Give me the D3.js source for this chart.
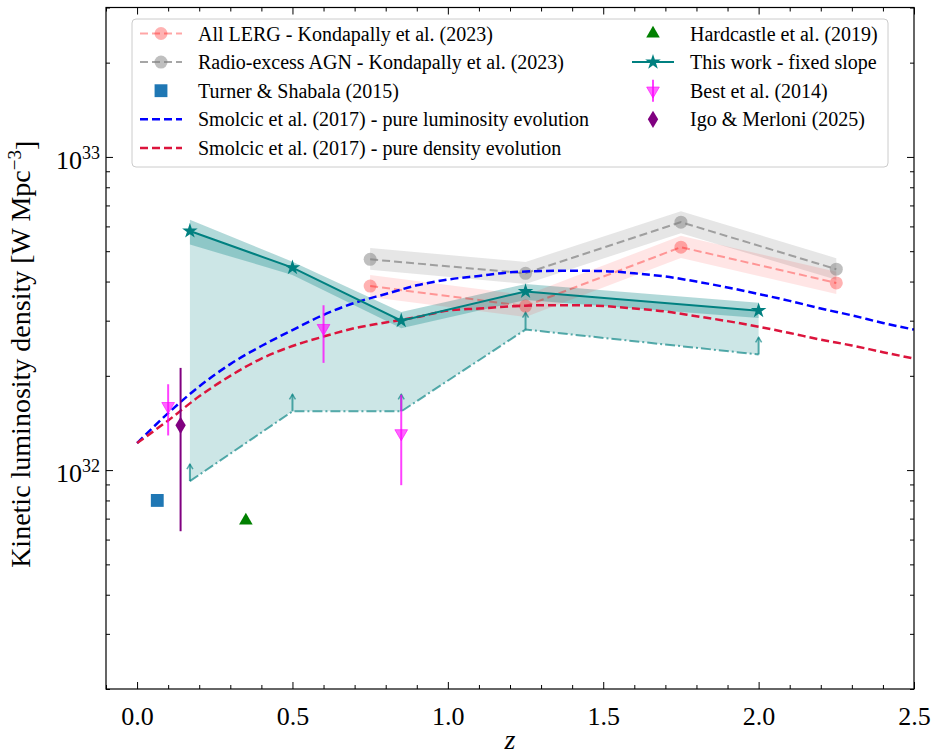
<!DOCTYPE html>
<html>
<head>
<meta charset="utf-8">
<script src="https://cdn.jsdelivr.net/npm/d3@7"></script>
<style>
  body { margin: 0; background: #fff; }
  text { font-family: "Liberation Serif", "Times New Roman", serif; }
</style>
</head>
<body>
<div id="chart"></div>
<script>
// ---- data ----
const zKond = [0.75, 1.25, 1.75, 2.25];
const lergVal = [3.87e32, 3.34e32, 5.15e32, 3.96e32];
const lergHi = [4.20e32, 3.62e32, 5.60e32, 4.30e32];
const lergLo = [3.57e32, 3.08e32, 4.76e32, 3.65e32];
const rxVal = [4.71e32, 4.25e32, 6.19e32, 4.38e32];
const rxHi = [5.12e32, 4.62e32, 6.71e32, 4.75e32];
const rxLo = [4.36e32, 3.93e32, 5.71e32, 4.05e32];

const zWork = [0.17, 0.5, 0.85, 1.25, 2.0];
const workVal = [5.80e32, 4.43e32, 3.00e32, 3.72e32, 3.23e32];
const workHi = [6.30e32, 4.63e32, 3.20e32, 3.93e32, 3.42e32];
const workLo = [5.25e32, 4.20e32, 2.84e32, 3.49e32, 3.06e32];
const workLimit = [9.22e31, 1.54e32, 1.54e32, 2.81e32, 2.34e32];

const zBest = [0.1, 0.6, 0.85];
const bestVal = [1.60e32, 2.84e32, 1.31e32];
const bestHi = [1.88e32, 3.36e32, 1.74e32];
const bestLo = [1.29e32, 2.20e32, 8.95e31];

const zIgo = [0.14], igoVal = [1.39e32], igoHi = [2.12e32], igoLo = [6.38e31];
const zTurner = [0.065], turnerVal = [8.0e31];
const zHard = [0.35], hardVal = [6.9e31];

const zModel = [0.0, 0.1, 0.2, 0.3, 0.4, 0.5, 0.6, 0.7, 0.8, 0.9, 1.0, 1.1, 1.2,
  1.3, 1.4, 1.5, 1.6, 1.7, 1.8, 1.9, 2.0, 2.1, 2.2, 2.3, 2.4, 2.5];
const lumEvo = [1.22e32, 1.52e32, 1.85e32, 2.18e32, 2.49e32, 2.80e32, 3.13e32, 3.42e32,
  3.65e32, 3.89e32, 4.06e32, 4.17e32, 4.28e32, 4.32e32, 4.33e32, 4.32e32, 4.25e32,
  4.15e32, 4.00e32, 3.83e32, 3.65e32, 3.47e32, 3.28e32, 3.12e32, 2.95e32, 2.81e32];
const densEvo = [1.22e32, 1.44e32, 1.72e32, 2.00e32, 2.27e32, 2.49e32, 2.67e32, 2.84e32,
  2.96e32, 3.08e32, 3.23e32, 3.28e32, 3.33e32, 3.36e32, 3.36e32, 3.34e32, 3.28e32,
  3.21e32, 3.10e32, 2.99e32, 2.87e32, 2.74e32, 2.61e32, 2.50e32, 2.38e32, 2.27e32];

const xTicks = [0.0, 0.5, 1.0, 1.5, 2.0, 2.5];
const yMajor = [1e32, 1e33];
const yExp = ["32", "33"];

const legendCol1 = ["All LERG - Kondapally et al. (2023)",
  "Radio-excess AGN - Kondapally et al. (2023)",
  "Turner & Shabala (2015)",
  "Smolcic et al. (2017) - pure luminosity evolution",
  "Smolcic et al. (2017) - pure density evolution"];
const legendCol2 = ["Hardcastle et al. (2019)", "This work - fixed slope",
  "Best et al. (2014)", "Igo & Merloni (2025)"];

// ---- layout ----
const margin = {top: 7.5, right: 21, bottom: 67, left: 106},
    width = 935 - margin.left - margin.right,
    height = 756 - margin.top - margin.bottom;

const svg = d3.select("#chart")
  .append("svg")
    .attr("width", 935)
    .attr("height", 756)
  .append("g")
    .attr("transform", `translate(${margin.left},${margin.top})`);

const x = d3.scaleLinear().domain([-0.1, 2.5]).range([0, width]);
const y = d3.scaleLog().domain([2e31, 3e33]).range([height, 0]);

svg.append("clipPath").attr("id", "clip")
  .append("rect").attr("width", width).attr("height", height);
const plot = svg.append("g").attr("clip-path", "url(#clip)");

const work = zWork.map((z, i) => ({z, v: workVal[i], hi: workHi[i], lo: workLo[i], lim: workLimit[i]}));
const lerg = zKond.map((z, i) => ({z, v: lergVal[i], hi: lergHi[i], lo: lergLo[i]}));
const rx = zKond.map((z, i) => ({z, v: rxVal[i], hi: rxHi[i], lo: rxLo[i]}));

const band = d3.area().x(d => x(d.z)).y0(d => y(d.lo)).y1(d => y(d.hi));
const line = d3.line().x(d => x(d.z)).y(d => y(d.v));

// teal region between lower limits and measured values
plot.append("path").datum(work)
  .attr("d", d3.area().x(d => x(d.z)).y0(d => y(d.lim)).y1(d => y(d.v)))
  .attr("fill", "teal").attr("fill-opacity", 0.2);
plot.append("path").datum(work).attr("d", band)
  .attr("fill", "teal").attr("fill-opacity", 0.3);

// Kondapally bands
plot.append("path").datum(rx).attr("d", band)
  .attr("fill", "gray").attr("fill-opacity", 0.2);
plot.append("path").datum(lerg).attr("d", band)
  .attr("fill", "red").attr("fill-opacity", 0.1);

// lower limit line + arrows
plot.append("path").datum(work)
  .attr("d", d3.line().x(d => x(d.z)).y(d => y(d.lim)))
  .attr("fill", "none").attr("stroke", "teal").attr("stroke-opacity", 0.65)
  .attr("stroke-width", 2).attr("stroke-dasharray", "10,3,2,3");
const arrows = plot.append("g").attr("stroke", "teal").attr("stroke-opacity", 0.65)
  .attr("stroke-width", 2).attr("fill", "none");
work.forEach(d => {
  const px = x(d.z), py = y(d.lim);
  arrows.append("line").attr("x1", px).attr("x2", px).attr("y1", py).attr("y2", py - 17);
  arrows.append("path").attr("d", `M${px - 3},${py - 12} L${px},${py - 17} L${px + 3},${py - 12}`)
    .attr("stroke-width", 1.5);
});

// Kondapally lines & markers
plot.append("path").datum(rx).attr("d", line)
  .attr("fill", "none").attr("stroke", "gray").attr("stroke-opacity", 0.7)
  .attr("stroke-width", 2).attr("stroke-dasharray", "8,4");
plot.append("path").datum(lerg).attr("d", line)
  .attr("fill", "none").attr("stroke", "red").attr("stroke-opacity", 0.35)
  .attr("stroke-width", 2).attr("stroke-dasharray", "8,4");
plot.selectAll(".rxpt").data(rx).join("circle")
  .attr("cx", d => x(d.z)).attr("cy", d => y(d.v)).attr("r", 6.5)
  .attr("fill", "gray").attr("fill-opacity", 0.5);
plot.selectAll(".lergpt").data(lerg).join("circle")
  .attr("cx", d => x(d.z)).attr("cy", d => y(d.v)).attr("r", 6.5)
  .attr("fill", "red").attr("fill-opacity", 0.3);

// Smolcic models
const model = d3.line().curve(d3.curveMonotoneX).x((d, i) => x(zModel[i])).y(d => y(d));
plot.append("path").datum(lumEvo).attr("d", model)
  .attr("fill", "none").attr("stroke", "blue").attr("stroke-width", 2.5)
  .attr("stroke-dasharray", "8,4");
plot.append("path").datum(densEvo).attr("d", model)
  .attr("fill", "none").attr("stroke", "crimson").attr("stroke-width", 2.5)
  .attr("stroke-dasharray", "8,4");

// This work
plot.append("path").datum(work).attr("d", line)
  .attr("fill", "none").attr("stroke", "teal").attr("stroke-width", 2);
const star = d3.symbol().type(d3.symbolStar).size(75);
plot.selectAll(".star").data(work).join("path")
  .attr("d", star).attr("transform", d => `translate(${x(d.z)},${y(d.v)})`)
  .attr("fill", "teal");

// Best et al.
const best = zBest.map((z, i) => ({z, v: bestVal[i], hi: bestHi[i], lo: bestLo[i]}));
plot.selectAll(".bestErr").data(best).join("line")
  .attr("x1", d => x(d.z)).attr("x2", d => x(d.z))
  .attr("y1", d => y(d.hi)).attr("y2", d => y(d.lo))
  .attr("stroke", "magenta").attr("stroke-opacity", 0.75).attr("stroke-width", 2);
const tri = d3.symbol().type(d3.symbolTriangle).size(70);
plot.selectAll(".bestPt").data(best).join("path")
  .attr("d", tri).attr("transform", d => `translate(${x(d.z)},${y(d.v)}) rotate(180)`)
  .attr("fill", "magenta").attr("fill-opacity", 0.6)
  .attr("stroke", "magenta").attr("stroke-opacity", 0.6);

// Igo & Merloni
const thinDiamond = {draw(ctx, size) {
  const h = Math.sqrt(size) * 0.9, w = h * 0.6;
  ctx.moveTo(0, -h); ctx.lineTo(w, 0); ctx.lineTo(0, h); ctx.lineTo(-w, 0); ctx.closePath();
}};
const igo = zIgo.map((z, i) => ({z, v: igoVal[i], hi: igoHi[i], lo: igoLo[i]}));
plot.selectAll(".igoErr").data(igo).join("line")
  .attr("x1", d => x(d.z)).attr("x2", d => x(d.z))
  .attr("y1", d => y(d.hi)).attr("y2", d => y(d.lo))
  .attr("stroke", "purple").attr("stroke-width", 2);
plot.selectAll(".igoPt").data(igo).join("path")
  .attr("d", d3.symbol().type(thinDiamond).size(92))
  .attr("transform", d => `translate(${x(d.z)},${y(d.v)})`)
  .attr("fill", "purple");

// Turner & Shabala, Hardcastle
plot.selectAll(".turner").data(zTurner).join("path")
  .attr("d", d3.symbol().type(d3.symbolSquare).size(165))
  .attr("transform", (d, i) => `translate(${x(d)},${y(turnerVal[i])})`)
  .attr("fill", "#1f77b4");
plot.selectAll(".hard").data(zHard).join("path")
  .attr("d", d3.symbol().type(d3.symbolTriangle).size(80))
  .attr("transform", (d, i) => `translate(${x(d)},${y(hardVal[i])})`)
  .attr("fill", "green");

// ---- axes ----
const minorX = d3.range(-0.1, 2.5001, 0.1).map(v => +v.toFixed(2)).filter(v => !xTicks.includes(v));
const minorY = y.ticks().filter(v => !yMajor.includes(v));

svg.append("g").attr("transform", `translate(0,${height})`)
  .call(d3.axisBottom(x).tickValues(xTicks).tickFormat(d3.format(".1f")).tickSizeInner(-7).tickSizeOuter(0).tickPadding(18))
  .call(g => g.select(".domain").remove())
  .call(g => g.selectAll("text").style("font-size", "26px").attr("fill", "#000"));
svg.append("g").attr("transform", `translate(0,${height})`)
  .call(d3.axisBottom(x).tickValues(minorX).tickFormat("").tickSizeInner(-4).tickSizeOuter(0))
  .call(g => g.select(".domain").remove());
svg.append("g")
  .call(d3.axisTop(x).tickValues(xTicks).tickFormat("").tickSizeInner(-7).tickSizeOuter(0))
  .call(g => g.select(".domain").remove());
svg.append("g")
  .call(d3.axisTop(x).tickValues(minorX).tickFormat("").tickSizeInner(-4).tickSizeOuter(0))
  .call(g => g.select(".domain").remove());

const yAx = svg.append("g")
  .call(d3.axisLeft(y).tickValues(yMajor).tickFormat("").tickSizeInner(-7).tickSizeOuter(0))
  .call(g => g.select(".domain").remove());
yAx.selectAll(".tick").append("text")
  .attr("x", -6).attr("dy", "0.45em").attr("text-anchor", "end")
  .attr("fill", "#000").style("font-size", "26px")
  .each(function(d, i) {
    const t = d3.select(this);
    t.append("tspan").text("10");
    t.append("tspan").attr("dy", "-0.55em").style("font-size", "18px").text(yExp[i]);
  });
svg.append("g")
  .call(d3.axisLeft(y).tickValues(minorY).tickFormat("").tickSizeInner(-4).tickSizeOuter(0))
  .call(g => g.select(".domain").remove());
svg.append("g").attr("transform", `translate(${width},0)`)
  .call(d3.axisRight(y).tickValues(yMajor).tickFormat("").tickSizeInner(-7).tickSizeOuter(0))
  .call(g => g.select(".domain").remove());
svg.append("g").attr("transform", `translate(${width},0)`)
  .call(d3.axisRight(y).tickValues(minorY).tickFormat("").tickSizeInner(-4).tickSizeOuter(0))
  .call(g => g.select(".domain").remove());

svg.selectAll(".tick line").attr("stroke", "#000").attr("stroke-width", 1);

svg.append("rect").attr("width", width).attr("height", height)
  .attr("fill", "none").attr("stroke", "#000").attr("stroke-width", 1.2);

// axis labels
const yl = svg.append("text")
  .attr("transform", `translate(${-76},${height / 2 + 6}) rotate(-90)`)
  .attr("text-anchor", "middle").style("font-size", "28px").attr("fill", "#000");
yl.append("tspan").text("Kinetic luminosity density [W Mpc");
yl.append("tspan").attr("dy", "-0.5em").style("font-size", "19px").text("\u22123");
yl.append("tspan").attr("dy", "0.5em").text("]");

svg.append("text")
  .attr("x", width / 2).attr("y", height + 60)
  .attr("text-anchor", "middle").style("font-size", "28px").style("font-style", "italic")
  .text("z");

// ---- legend ----
const lg = svg.append("g").attr("transform", `translate(${132 - margin.left},${19 - margin.top})`);
lg.append("rect").attr("width", 756).attr("height", 148).attr("rx", 4)
  .attr("fill", "#fff").attr("fill-opacity", 0.8).attr("stroke", "#ccc");
const rowY = i => 14.5 + i * 28.6;
const c1 = 8, c2 = 500;

function handleLine(g, x0, yy, color, op, dash, w) {
  g.append("line").attr("x1", x0).attr("x2", x0 + 42).attr("y1", yy).attr("y2", yy)
    .attr("stroke", color).attr("stroke-opacity", op).attr("stroke-width", w || 2)
    .attr("stroke-dasharray", dash);
}
function mark(g, x0, yy, type, size, color, op, rot) {
  return g.append("path").attr("d", d3.symbol().type(type).size(size)())
    .attr("transform", `translate(${x0},${yy})${rot ? " rotate(180)" : ""}`)
    .attr("fill", color).attr("fill-opacity", op);
}

legendCol1.forEach((t, i) => {
  const yy = rowY(i);
  lg.append("text").attr("x", 66).attr("y", yy).attr("dy", "0.35em")
    .style("font-size", "20px").text(t);
});
legendCol2.forEach((t, i) => {
  const yy = rowY(i);
  lg.append("text").attr("x", 558).attr("y", yy).attr("dy", "0.35em")
    .style("font-size", "20px").text(t);
});

handleLine(lg, c1, rowY(0), "red", 0.35, "8,4");
lg.append("circle").attr("cx", c1 + 21).attr("cy", rowY(0)).attr("r", 6.5).attr("fill", "red").attr("fill-opacity", 0.3);
handleLine(lg, c1, rowY(1), "gray", 0.7, "8,4");
lg.append("circle").attr("cx", c1 + 21).attr("cy", rowY(1)).attr("r", 6.5).attr("fill", "gray").attr("fill-opacity", 0.5);
mark(lg, c1 + 21, rowY(2), d3.symbolSquare, 165, "#1f77b4", 1);
handleLine(lg, c1, rowY(3), "blue", 1, "8,4", 2.5);
handleLine(lg, c1, rowY(4), "crimson", 1, "8,4", 2.5);

mark(lg, c2 + 21, rowY(0), d3.symbolTriangle, 80, "green", 1);
handleLine(lg, c2, rowY(1), "teal", 1, null, 2);
mark(lg, c2 + 21, rowY(1), d3.symbolStar, 75, "teal", 1);
lg.append("line").attr("x1", c2 + 21).attr("x2", c2 + 21).attr("y1", rowY(2) - 11).attr("y2", rowY(2) + 11)
  .attr("stroke", "magenta").attr("stroke-opacity", 0.75).attr("stroke-width", 2);
mark(lg, c2 + 21, rowY(2), d3.symbolTriangle, 70, "magenta", 0.6, true)
  .attr("stroke", "magenta").attr("stroke-opacity", 0.6);
lg.append("path").attr("d", d3.symbol().type(thinDiamond).size(92)())
  .attr("transform", `translate(${c2 + 21},${rowY(3)})`).attr("fill", "purple");
</script>
</body>
</html>
